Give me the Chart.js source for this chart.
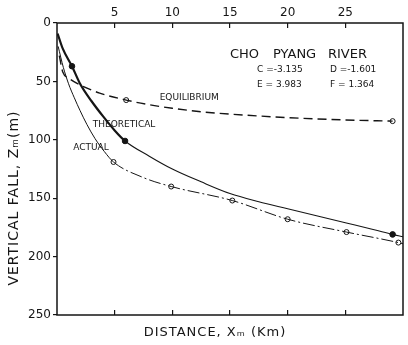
<!DOCTYPE html>
<html lang="en">
<head>
    <meta charset="UTF-8">
    <title>Cho Pyang River - vertical fall</title>
    <script src="https://cdn.jsdelivr.net/npm/chart.js"></script>
    <style>
        html, body {
            margin: 0;
            padding: 0;
            background: #fff;
        }
        .wrap {
            width: 408px;
            height: 345px;
        }
    </style>
</head>
<body>

    <div class="wrap">
        <canvas id="fallChart" width="408" height="345"></canvas>
    </div>

    <script>
        // distance (km) / vertical fall (m)
        const theoryX = [0.05, 0.5, 1.3, 2, 3, 4, 5, 5.9, 8, 10, 12.5, 15, 17.5, 20, 22.5, 25, 27.5, 29.1, 30];
        const theoryY = [9, 22, 37, 52, 67, 80, 92, 101, 114, 125, 136, 146, 153, 159, 165, 171, 177, 181, 183];
        const theoryDotX = [1.3, 5.9, 29.1];
        const theoryDotY = [37, 101, 181];

        const actualX = [0.1, 0.55, 1, 1.5, 2, 2.6, 3.3, 4.1, 4.9, 7.4, 9.9, 15.2, 20, 25.1, 29.6, 30];
        const actualY = [20, 38, 52, 64, 75, 87, 99, 110, 119, 132, 140, 152, 168, 179, 188, 189];
        const actualDotX = [4.9, 9.9, 15.2, 20, 25.1, 29.6];
        const actualDotY = [119, 140, 152, 168, 179, 188];

        const equilX = [0.2, 0.5, 1, 2, 3.7, 6, 8, 10, 12.5, 15, 20, 25, 29.1];
        const equilY = [28, 42, 47, 53, 60, 66, 70, 73, 76, 78, 81, 83, 84];
        const equilDotX = [6, 29.1];
        const equilDotY = [66, 84];

        const xTicks = [5, 10, 15, 20, 25];
        const yTicks = [0, 50, 100, 150, 200, 250];

        const riverName = ["CHO", "PYANG", "RIVER"];
        const coefLabels = ["C =-3.135", "D =-1.601", "E = 3.983", "F = 1.364"];
        const curveLabels = ["EQUILIBRIUM", "THEORETICAL", "ACTUAL"];

        const ink = "#151515";
        const pts = (xs, ys) => xs.map((x, i) => ({ x: x, y: ys[i] }));

        // text that is not tied to an axis: titles, river name, coefficients, curve names
        const notes = {
            id: "notes",
            afterDraw(chart) {
                const c = chart.ctx;
                const xs = chart.scales.x, ys = chart.scales.y;
                c.save();
                c.fillStyle = ink;
                c.textBaseline = "middle";

                c.font = "13px 'DejaVu Sans'";
                c.textAlign = "left";
                c.fillText(riverName[0], 230, 55);
                c.fillText(riverName[1], 273, 55);
                c.fillText(riverName[2], 328, 55);

                c.font = "9px 'DejaVu Sans'";
                c.fillText(coefLabels[0], 257, 70);
                c.fillText(coefLabels[1], 330, 70);
                c.fillText(coefLabels[2], 257, 85);
                c.fillText(coefLabels[3], 330, 85);

                c.fillText(curveLabels[0], xs.getPixelForValue(8.9), ys.getPixelForValue(64));
                c.fillText(curveLabels[1], xs.getPixelForValue(3.1), ys.getPixelForValue(87));
                c.fillText(curveLabels[2], xs.getPixelForValue(1.4), ys.getPixelForValue(107));

                // axis titles
                c.font = "13px 'DejaVu Sans'";
                c.textAlign = "center";
                c.letterSpacing = "1px";
                c.fillText("DISTANCE, X\u2098 (Km)", 215, 333);

                c.translate(14, 198);
                c.rotate(-Math.PI / 2);
                c.font = "14px 'DejaVu Sans'";
                c.fillText("VERTICAL FALL, Z\u2098(m)", 0, 0);
                c.restore();

                // frame
                const a = chart.chartArea;
                c.save();
                c.strokeStyle = ink;
                c.lineWidth = 1.5;
                c.strokeRect(a.left, a.top, a.right - a.left, a.bottom - a.top);
                c.restore();
            }
        };

        const ctx = document.getElementById("fallChart").getContext("2d");
        new Chart(ctx, {
            type: "line",
            data: {
                datasets: [
                    {
                        label: "Equilibrium",
                        data: pts(equilX, equilY),
                        borderColor: ink,
                        borderWidth: 1.4,
                        borderDash: [9, 5],
                        pointRadius: 0,
                        cubicInterpolationMode: "monotone",
                        fill: false
                    },
                    {
                        label: "Theoretical",
                        data: pts(theoryX, theoryY),
                        borderColor: ink,
                        borderWidth: 1.1,
                        pointRadius: 0,
                        cubicInterpolationMode: "monotone",
                        segment: {
                            borderWidth: s => s.p0.parsed.x < 5.9 ? 2.2 : undefined
                        },
                        fill: false
                    },
                    {
                        label: "Actual",
                        data: pts(actualX, actualY),
                        borderColor: ink,
                        borderWidth: 1,
                        pointRadius: 0,
                        cubicInterpolationMode: "monotone",
                        segment: {
                            borderDash: s => s.p0.parsed.x >= 4.9 ? [12, 3, 2, 3] : undefined
                        },
                        fill: false
                    },
                    {
                        label: "Equilibrium points",
                        data: pts(equilDotX, equilDotY),
                        showLine: false,
                        pointRadius: 2.5,
                        pointBorderWidth: 1,
                        pointBorderColor: ink,
                        pointBackgroundColor: "#fff"
                    },
                    {
                        label: "Theoretical points",
                        data: pts(theoryDotX, theoryDotY),
                        showLine: false,
                        pointRadius: 2.8,
                        pointBorderWidth: 1,
                        pointBorderColor: ink,
                        pointBackgroundColor: ink
                    },
                    {
                        label: "Actual points",
                        data: pts(actualDotX, actualDotY),
                        showLine: false,
                        pointRadius: 2.5,
                        pointBorderWidth: 1,
                        pointBorderColor: ink,
                        pointBackgroundColor: "#fff"
                    }
                ]
            },
            options: {
                responsive: false,
                animation: false,
                layout: { padding: { left: 0, right: 3, top: 0, bottom: 0 } },
                plugins: {
                    legend: { display: false },
                    tooltip: { enabled: false }
                },
                scales: {
                    x: {
                        type: "linear",
                        position: "bottom",
                        min: 0,
                        max: 30,
                        afterBuildTicks: s => { s.ticks = xTicks.map(v => ({ value: v })); },
                        afterFit: s => { s.height = 30; },
                        ticks: { display: false },
                        grid: { drawOnChartArea: false, tickLength: -5, color: ink, lineWidth: 1.2 },
                        border: { display: false }
                    },
                    x2: {
                        type: "linear",
                        position: "top",
                        min: 0,
                        max: 30,
                        afterBuildTicks: s => { s.ticks = xTicks.map(v => ({ value: v })); },
                        afterFit: s => { s.height = 23; },
                        ticks: {
                            color: ink,
                            padding: 8,
                            maxRotation: 0,
                            font: { family: "'DejaVu Sans'", size: 12 }
                        },
                        grid: { drawOnChartArea: false, tickLength: -5, color: ink, lineWidth: 1.2 },
                        border: { display: false }
                    },
                    y: {
                        type: "linear",
                        reverse: true,
                        min: 0,
                        max: 250,
                        afterBuildTicks: s => { s.ticks = yTicks.map(v => ({ value: v })); },
                        afterFit: s => { s.width = 57; },
                        ticks: {
                            color: ink,
                            padding: 2,
                            font: { family: "'DejaVu Sans'", size: 12 }
                        },
                        grid: { drawOnChartArea: false, tickLength: 4, color: ink, lineWidth: 1.2 },
                        border: { display: false }
                    }
                }
            },
            plugins: [notes]
        });
    </script>

</body>
</html>
